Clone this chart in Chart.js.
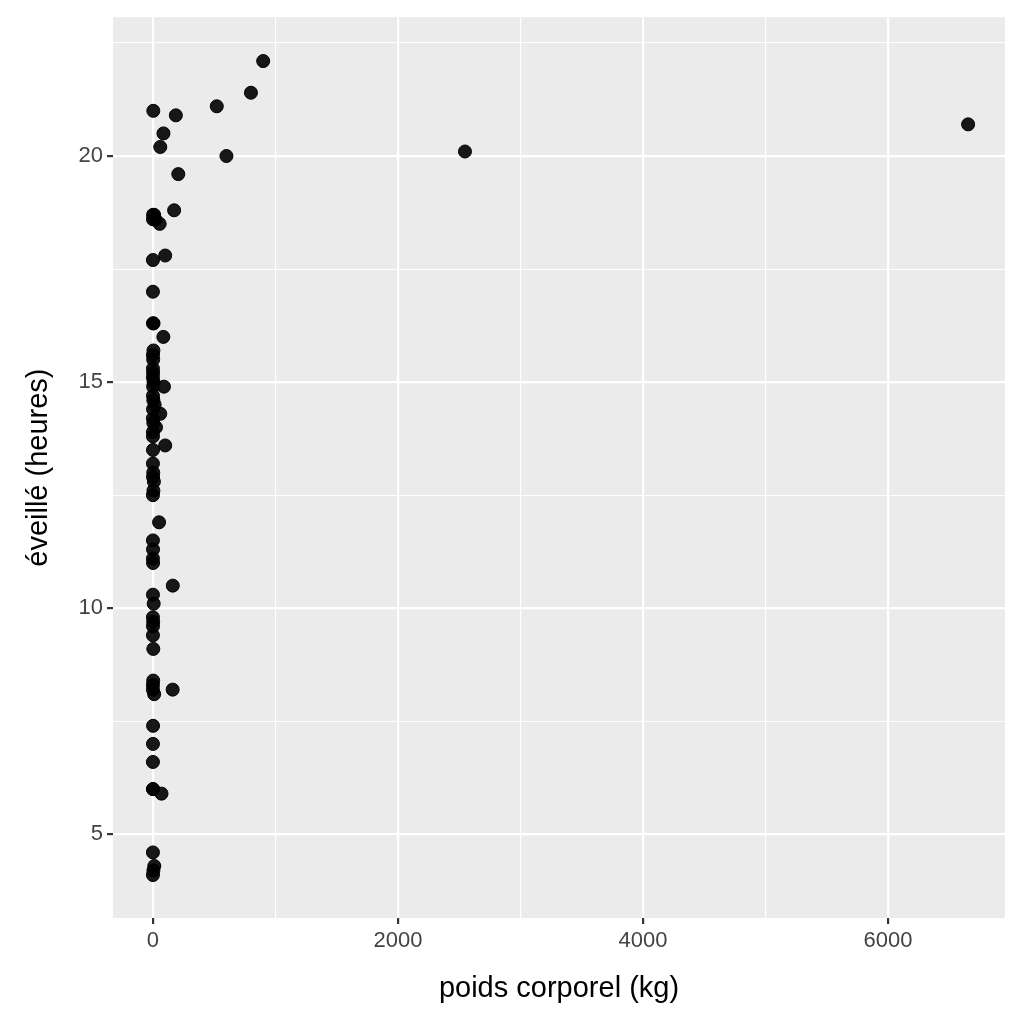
<!DOCTYPE html>
<html><head><meta charset="utf-8">
<script src="https://cdn.jsdelivr.net/npm/chart.js@4"></script>
<style>html,body{margin:0;padding:0;background:#fff}</style>
</head><body>
<canvas id="c" width="1024" height="1024" style="width:1024px;height:1024px"></canvas>
<script>
const bodyWeight = [6654,2547,900,800,521,600,207,187,173,162,161,86,60,100,85,55,100,90,50,70,60,
 3,1,0.5,10,20,0.1,0.02,5,4,2,0.3,0.05,1.5,3.5,0.9,0.01,25,0.2,0.6,0.03,2.5,8,4,0.1,0.04,0.7,1,0.2,6,
 0.03,0.5,0.1,3,2,0.05,10,1,0.3,0.02,0.9,0.06,11,0.01,4,0.2,0.5,14,3,0.12,1.4,0.8,0.07,2,0.02,0.3,5,0.1];
const awakeHours = [20.7,20.1,22.1,21.4,21.1,20.0,19.6,20.9,18.8,10.5,8.2,20.5,20.2,17.8,16.0,18.5,13.6,14.9,11.9,5.9,14.3,
 21.0,18.7,18.6,18.7,18.6,17.7,17.0,16.3,15.7,15.5,15.3,15.1,14.9,14.6,14.4,14.2,14.0,13.8,13.5,13.2,13.0,12.8,12.6,12.5,
 11.5,11.3,11.0,10.3,10.1,9.8,9.6,9.4,9.1,8.4,8.2,8.1,7.4,7.0,6.6,6.0,4.6,4.3,4.1,4.2,15.6,14.7,14.5,14.1,13.9,15.2,12.9,
 11.1,9.7,8.3,6.0,15.0,16.3];
const xTicks = [0,2000,4000,6000];
const yTicks = [5,10,15,20];
const pts = bodyWeight.map((x,i)=>({x, y: awakeHours[i]}));
const bg = {id:'bg', beforeDraw(ch){const a=ch.chartArea,c=ch.ctx;c.save();c.fillStyle='#ebebeb';c.fillRect(a.left,a.top,a.right-a.left,a.bottom-a.top);c.restore();}};
const gridCfg = (major)=>({color:'#ffffff', lineWidth:(ctx)=> major(ctx.tick && ctx.tick.value)?2.2:1.1,
  tickColor:(ctx)=> major(ctx.tick && ctx.tick.value)?'#333333':'rgba(0,0,0,0)', tickLength:6, drawTicks:true});
new Chart(document.getElementById('c'), {
  type:'scatter',
  data:{datasets:[{data:pts, backgroundColor:'rgba(0,0,0,0.9)', borderColor:'#000', borderWidth:1, pointRadius:6.5, pointHoverRadius:6.5}]},
  options:{responsive:false, animation:false, devicePixelRatio:1,
    layout:{padding:{top:15,right:19,left:18,bottom:14}},
    plugins:{legend:{display:false}, tooltip:{enabled:false}},
    scales:{
      x:{type:'linear', min:-326, max:6955, border:{display:false},
        afterBuildTicks(s){const t=[];for(let v=0;v<=6000;v+=1000)t.push({value:v});s.ticks=t;},
        afterFit(s){s.height=92;},
        grid:gridCfg(v=>xTicks.includes(v)),
        ticks:{color:'#444', font:{family:'Liberation Sans, Arial', size:22}, padding:4,
          callback:(v)=> xTicks.includes(v)? String(v):''},
        title:{display:true, text:'poids corporel (kg)', color:'#000', font:{family:'Liberation Sans, Arial', size:29}, padding:{top:0}}},
      y:{type:'linear', min:3.15, max:23.07, border:{display:false},
        afterBuildTicks(s){const t=[];for(let v=5;v<=22.5;v+=2.5)t.push({value:v});s.ticks=t;},
        afterFit(s){s.width=95;},
        grid:gridCfg(v=>yTicks.includes(v)),
        ticks:{color:'#444', font:{family:'Liberation Sans, Arial', size:22}, padding:4,
          callback:(v)=> yTicks.includes(v)? String(v):''},
        title:{display:true, text:'éveillé (heures)', color:'#000', font:{family:'Liberation Sans, Arial', size:29}, padding:{bottom:0}}}
    }},
  plugins:[bg]
});
</script></body></html>
